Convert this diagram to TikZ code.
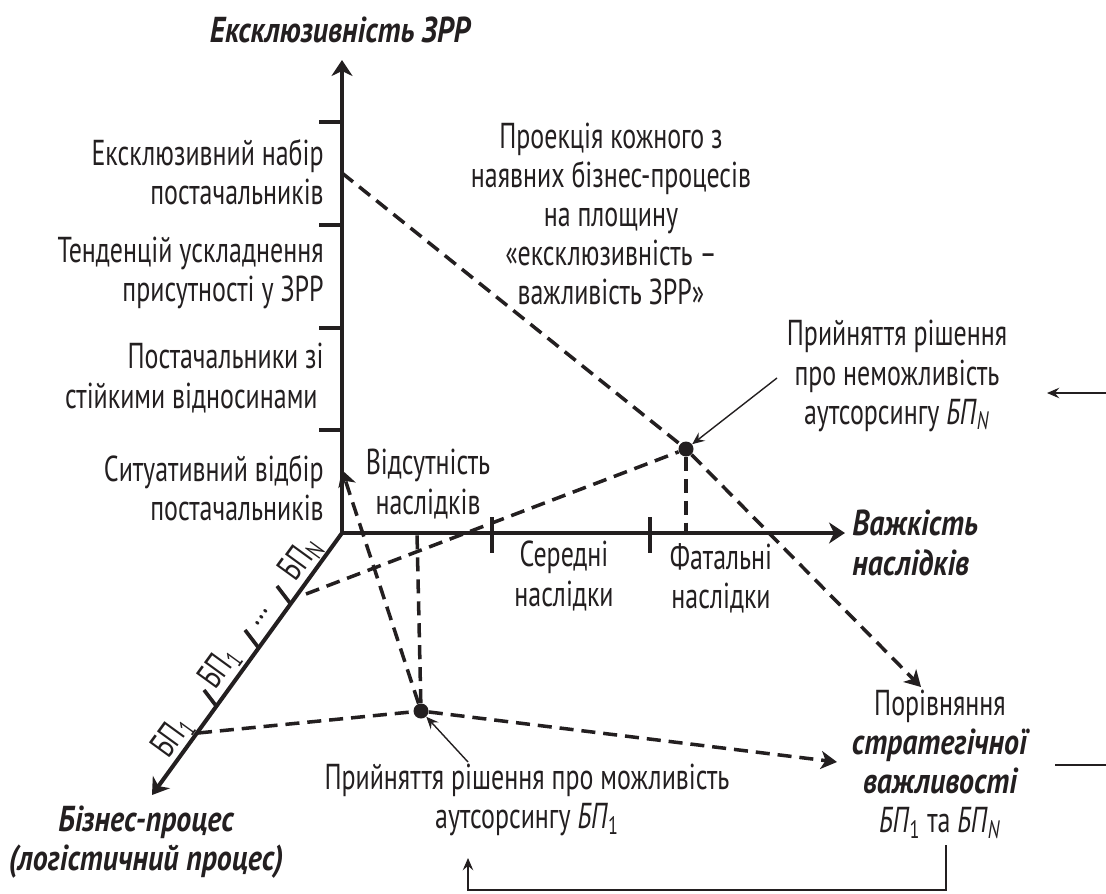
\documentclass[tikz,border=0pt]{standalone}
\usepackage{fontspec}
\setmainfont{PT Sans}[FakeStretch=0.72]
\newfontfamily\ttlfont{PT Sans}[FakeStretch=0.83]
\usetikzlibrary{arrows.meta}
\definecolor{ink}{HTML}{231F20}
\newcommand{\bpit}[1]{\textit{БП}\textsubscript{#1}}
\newcommand{\bfit}[1]{{\ttlfont\bfseries\itshape #1}}

\begin{document}
\begin{tikzpicture}[
  x=0.02cm, y=-0.02cm,
  every node/.style={font=\fontsize{20.5}{22.3}\selectfont, text=ink, inner sep=0pt},
  ttl/.style={font=\fontsize{20.5}{22.3}\selectfont\ttlfont\bfseries\itshape},
  lbl/.style={align=center},
  ylbl/.style={align=right, anchor=east},
  zlbl/.style={rotate=54},
  axis/.style={draw=ink, line width=2.3pt},
  tickmark/.style={draw=ink, line width=2.1pt},
  dline/.style={draw=ink, line width=2pt, dash pattern=on 8pt off 4.5pt},
  pointer/.style={draw=ink, line width=0.8pt},
  dot/.style={circle, fill=ink, minimum size=0.3cm},
  bigtip/.tip={Stealth[length=0.32cm, width=0.42cm, inset=0.1cm]},
  dtip/.tip={Stealth[length=0.32cm, width=0.36cm, inset=0.09cm]},
  ptip/.tip={Stealth[length=7pt, width=6pt, inset=2.5pt]}
]
  \useasboundingbox (0,0) rectangle (1106,893);

  \coordinate (O) at (342,533);
  \coordinate (ytop) at (342,60);
  \coordinate (xend) at (845,533);
  \coordinate (zend) at (152,795);

  \draw[axis, -bigtip] (O) -- (ytop);
  \draw[axis, -bigtip] (O) -- (xend);
  \draw[axis, -bigtip] (O) -- (zend);

  \foreach \y in {122,225,328,430}
    \draw[tickmark] (319,\y) -- (342,\y);
  \foreach \x in {492,650}
    \draw[tickmark] (\x,517) -- (\x,553);
  \foreach \p in {(290,603),(258,647),(217,707)}
    \draw[tickmark] \p -- ++(-13,-17);

  \node[ttl] (ytl) at (340,30) {Ексклюзивність ЗРР};
  \node[ttl, align=left, anchor=west] (xtl) at (852,543) {Важкість\\наслідків};
  \node[ttl, align=center] (ztl) at (146,842) {Бізнес-процес\\(логістичний процес)};

  \node[ylbl] (y4) at (324,172) {Ексклюзивний набір\\постачальників};
  \node[ylbl] (y3) at (324,273) {Тенденцій ускладнення\\присутності у ЗРР};
  \node[ylbl] (y2) at (324,378) {Постачальники зі\\стійкими відносинами\hspace*{0.12cm}};
  \node[ylbl] (y1) at (324,488) {Ситуативний відбір\\постачальників};

  \node[lbl] (x1) at (428,484) {Відсутність\\наслідків};
  \node[lbl] (x2) at (564,576) {Середні\\наслідки};
  \node[lbl] (x3) at (721,578) {Фатальні\\наслідки};

  \node[zlbl] (z4) at (301,559) {БП\textsubscript{N}};
  \node[zlbl] (z3) at (262,617) {...};
  \node[zlbl] (z2) at (220,668) {БП\textsubscript{1}};
  \node[zlbl] (z1) at (173,737) {БП\textsubscript{1}};

  \node[lbl] (prj) at (611,214) {Проекція кожного з\\наявних бізнес-процесів\\на площину\\«ексклюзивність –\\важливість ЗРР»};
  \node[lbl] (ntN) at (897,376) {Прийняття рішення\\про неможливість\\аутсорсингу \bpit{\textit{N}}};
  \node[lbl] (nt1) at (527,800) {Прийняття рішення про можливість\\аутсорсингу \bpit{1}};
  \node[lbl] (cmp) at (940,764) {Порівняння\\\bfit{стратегічної}\\\bfit{важливості}\\\bpit{1} та \bpit{\textit{N}}};

  \node[dot] (dN) at (686,449) {};
  \node[dot] (d1) at (421,711) {};

  \coordinate (yE) at (342,173);
  \coordinate (zN) at (306,594);
  \coordinate (zB) at (198,733);
  \coordinate (xN) at (686,533);
  \coordinate (xB) at (417,533);
  \coordinate (yB) at (342,470);
  \coordinate (cmpT) at (921,687);
  \coordinate (cmpL) at (837,762);

  \draw[dline] (yE) -- (dN);
  \draw[dline, -dtip] (dN) -- (cmpT);
  \draw[dline] (zN) -- (dN);
  \draw[dline] (dN) -- (xN);
  \draw[dline] (zB) -- (d1);
  \draw[dline, -dtip] (d1) -- (cmpL);
  \draw[dline] (d1) -- (xB);
  \draw[dline, -dtip] (d1) -- (yB);

  \coordinate (nt1a) at (468,762);
  \coordinate (ntNa) at (777,378);
  \coordinate (rN) at (1106,393);
  \coordinate (rNa) at (1047,393);
  \coordinate (rC) at (1106,765);
  \coordinate (rCa) at (1055,765);
  \coordinate (bC) at (946,845);
  \coordinate (bA) at (468,858);

  \draw[pointer, -ptip] (nt1a) -- (d1);
  \draw[pointer, -ptip] (ntNa) -- (dN);
  \draw[pointer, -ptip] (rN) -- (rNa);
  \draw[pointer] (rC) -- (rCa);
  \draw[pointer, -ptip] (bC) -- ++(0,45) -| (bA);
\end{tikzpicture}
\end{document}
